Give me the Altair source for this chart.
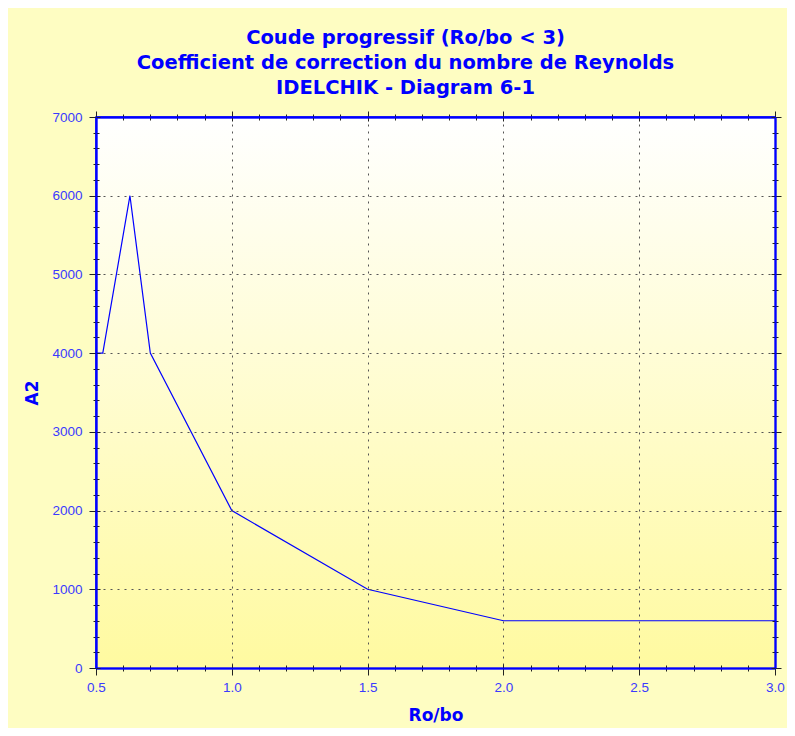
import altair as alt
import pandas as pd

ro_bo = [0.5, 0.525, 0.625, 0.7, 1.0, 1.5, 2.0, 3.0]
a2 = [4000, 4000, 6000, 4000, 2000, 1000, 600, 600]
x_major = [0.5, 1.0, 1.5, 2.0, 2.5, 3.0]
x_minor = [round(0.5 + 0.1 * i, 1) for i in range(26)]
y_major = [0, 1000, 2000, 3000, 4000, 5000, 6000, 7000]
y_minor = [200 * i for i in range(36)]

W, H = 679, 551

df = pd.DataFrame({"x": ro_bo, "y": a2})
bg = pd.DataFrame({"x0": [x_major[0]], "x1": [x_major[-1]], "y0": [y_major[0]], "y1": [y_major[-1]]})

BLUE = "#0000ff"
LBL = "#3a3aff"
TICK = "#222222"
TFONT = "DejaVu Sans"
LFONT = "Liberation Sans"

xs = alt.Scale(domain=[0.5, 3.0], nice=False, zero=False)
ys = alt.Scale(domain=[0, 7000], nice=False, zero=False)


def axis(orient, values, size, offset=0, labels=False, grid=False, title=None, fmt="d"):
    kw = dict(orient=orient, values=values, tickSize=size, tickColor=TICK, tickWidth=1,
              domainColor=BLUE, domainWidth=1.5, labels=labels, grid=grid, offset=offset,
              zindex=1)
    if labels:
        kw.update(format=fmt, labelColor=LBL, labelFont=LFONT, labelFontSize=13.5,
                  labelPadding=5 if orient == "bottom" else 7, labelFlush=False)
    if grid:
        kw.update(gridColor="#555555", gridDash=[2, 5], gridWidth=1)
    if title:
        kw.update(title=title, titleColor=BLUE, titleFont=TFONT, titleFontSize=17,
                  titleFontWeight="bold", titlePadding=14 if orient == "bottom" else 10)
    else:
        kw["title"] = None
    return alt.Axis(**kw)


background = alt.Chart(bg).mark_rect(
    color=alt.LinearGradient(
        gradient="linear", x1=0, y1=0, x2=0, y2=1,
        stops=[alt.GradientStop(offset=0, color="#ffffff"),
               alt.GradientStop(offset=1, color="#fffaa0")],
    )
).encode(
    x=alt.X("x0:Q", scale=xs, axis=None), x2="x1:Q",
    y=alt.Y("y0:Q", scale=ys, axis=None), y2="y1:Q",
)

base = alt.Chart(df)


def ghost(xax, yax):
    return base.mark_line(opacity=0).encode(
        x=alt.X("x:Q", scale=xs, axis=xax),
        y=alt.Y("y:Q", scale=ys, axis=yax),
    )


main = base.mark_line(color=BLUE, strokeWidth=1.2).encode(
    x=alt.X("x:Q", scale=xs, axis=axis("bottom", x_major, 7, labels=True, grid=True,
                                        title="Ro/bo", fmt=".1f")),
    y=alt.Y("y:Q", scale=ys, axis=axis("left", y_major, 7, labels=True, grid=True, title="A2")),
)

layers = [
    background,
    main,
    # outward minor ticks, bottom / left
    ghost(axis("bottom", x_minor, 3), axis("left", y_minor, 3)),
    # inward ticks on bottom / left (axes placed on the opposite side, pulled across)
    ghost(axis("top", x_major, 4, offset=-H), axis("right", y_major, 4, offset=-W)),
    ghost(axis("top", x_minor, 3, offset=-H), axis("right", y_minor, 3, offset=-W)),
    # mirrored ticks on top / right, outward
    ghost(axis("top", x_major, 6), axis("right", y_major, 6)),
    ghost(axis("top", x_minor, 3), axis("right", y_minor, 3)),
    # mirrored ticks on top / right, inward
    ghost(axis("bottom", x_major, 4, offset=-H), axis("left", y_major, 4, offset=-W)),
    ghost(axis("bottom", x_minor, 3, offset=-H), axis("left", y_minor, 3, offset=-W)),
]

chart = (
    alt.layer(*layers)
    .resolve_axis(x="independent", y="independent")
    .properties(
        width=W,
        height=H,
        autosize=alt.AutoSizeParams(type="none"),
        padding={"left": 88, "top": 109, "right": 12, "bottom": 60},
        background="#fefdc2",
        title=alt.TitleParams(
            text=["Coude progressif (Ro/bo < 3)",
                  "Coefficient de correction du nombre de Reynolds",
                  "IDELCHIK - Diagram 6-1"],
            color=BLUE, font=TFONT, fontSize=19.5, fontWeight="bold",
            anchor="middle", dx=-30, offset=12, lineHeight=25,
        ),
    )
    .configure_view(stroke=BLUE, strokeWidth=1.5)
)

chart.save("out.html", embed_options={"renderer": "svg", "actions": False})
